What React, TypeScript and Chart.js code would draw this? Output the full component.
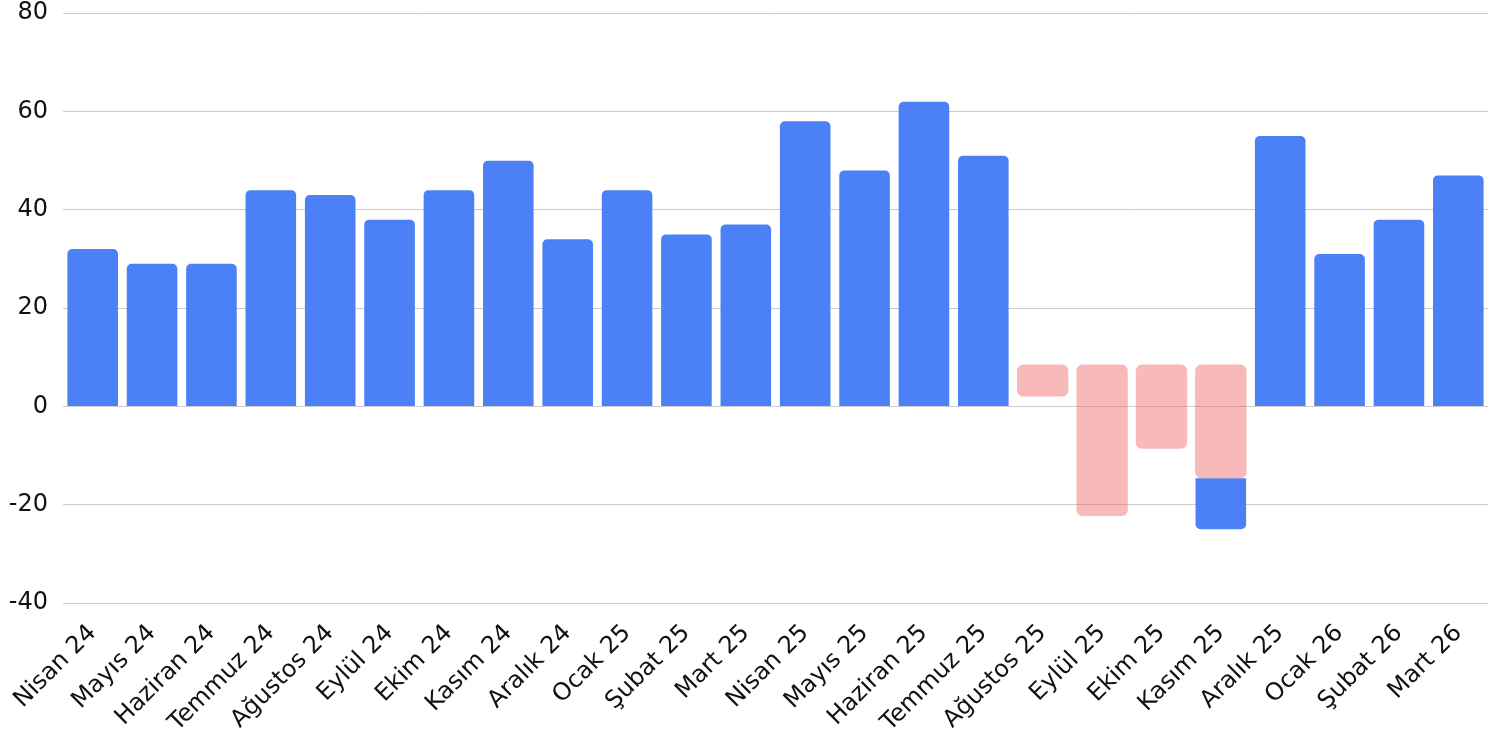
import React, { useEffect, useRef } from "react";
import { Chart, registerables } from "chart.js";

Chart.register(...registerables);

const categories = [
  "Nisan 24", "Mayıs 24", "Haziran 24", "Temmuz 24", "Ağustos 24", "Eylül 24",
  "Ekim 24", "Kasım 24", "Aralık 24", "Ocak 25", "Şubat 25", "Mart 25",
  "Nisan 25", "Mayıs 25", "Haziran 25", "Temmuz 25", "Ağustos 25", "Eylül 25",
  "Ekim 25", "Kasım 25", "Aralık 25", "Ocak 26", "Şubat 26", "Mart 26",
];

// main (blue) series; Kasım 25 is a floating piece below the highlight
const mainValues: (number | [number, number] | null)[] = [
  32, 29, 29, 44, 43, 38, 44, 50, 34, 44, 35, 37,
  58, 48, 62, 51, null, null, null, [-14.6, -25], 55, 31, 38, 47,
];

// highlight (pink) floating ranges
const highlightRanges: ([number, number] | null)[] = [
  null, null, null, null, null, null, null, null, null, null, null, null,
  null, null, null, null, [8.5, 2], [8.5, -22.3], [8.5, -8.6], [8.5, -14.6],
  null, null, null, null,
];

const yMin = -40;
const yMax = 80;
const yStep = 20;

export default function App() {
  const ref = useRef<HTMLCanvasElement>(null);
  useEffect(() => {
    if (!ref.current) return;
    const font = { family: "'DejaVu Sans', sans-serif", size: 24, lineHeight: 1.1 };
    const chart = new Chart(ref.current, {
      type: "bar",
      data: {
        labels: categories,
        datasets: [
          {
            label: "highlight",
            data: highlightRanges as any,
            backgroundColor: "rgba(238,80,80,0.4)",
            borderRadius: 6,
            borderSkipped: false,
            grouped: false,
            order: 0,
            barPercentage: 0.865,
            categoryPercentage: 1,
          },
          {
            label: "main",
            data: mainValues as any,
            backgroundColor: "#4b80f7",
            borderRadius: 5,
            borderSkipped: "start",
            grouped: false,
            order: 1,
            barPercentage: 0.852,
            categoryPercentage: 1,
          },
        ],
      },
      options: {
        animation: false,
        responsive: true,
        maintainAspectRatio: false,
        layout: { autoPadding: false, padding: { top: 0, right: 13, left: 8, bottom: 0 } },
        plugins: { legend: { display: false }, tooltip: { enabled: false } },
        scales: {
          x: {
            grid: { display: false, drawTicks: false },
            border: { display: false },
            afterFit: (scale: any) => {
              scale.height = 139;
            },
            ticks: {
              autoSkip: false,
              maxRotation: 45,
              minRotation: 45,
              color: "#111",
              font,
              padding: 17,
            },
          },
          y: {
            min: yMin,
            max: yMax,
            grid: {
              color: "#cccccc",
              drawTicks: true,
              tickLength: 15,
              tickColor: "rgba(0,0,0,0)",
            },
            border: { display: false },
            ticks: { stepSize: yStep, color: "#111", font, padding: 0 },
          },
        },
      },
    });
    return () => chart.destroy();
  }, []);
  return (
    <div style={{ position: "absolute", left: 0, top: 0, width: 1501, height: 742 }}>
      <canvas ref={ref} />
    </div>
  );
}
